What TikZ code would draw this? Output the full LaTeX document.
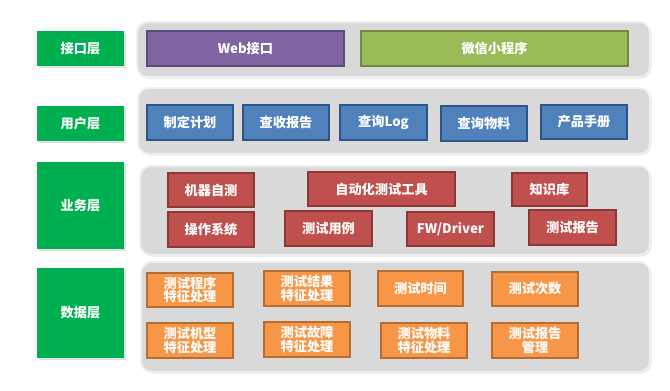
\documentclass[tikz,border=0pt]{standalone}
\usepackage{fontspec}
\setmainfont{Noto Sans CJK SC}
\usetikzlibrary{shadows}
\definecolor{lgreen}{HTML}{00B050}
\definecolor{panelfill}{HTML}{D9D9D9}
\definecolor{panelrim}{HTML}{EFEFEF}
\definecolor{purplef}{HTML}{8064A2}
\definecolor{purpled}{HTML}{5C4A7A}
\definecolor{olivef}{HTML}{9BBB59}
\definecolor{olived}{HTML}{71893F}
\definecolor{bluef}{HTML}{4F81BD}
\definecolor{blued}{HTML}{2F5585}
\definecolor{redf}{HTML}{C0504D}
\definecolor{redd}{HTML}{8C3836}
\definecolor{orangef}{HTML}{F79646}
\definecolor{oranged}{HTML}{B66D31}
\tikzset{
  every node/.style={font=\fontsize{13.2}{13.6}\selectfont\bfseries, text=white, align=center, inner sep=0pt},
  layerlabel/.style={fill=lgreen, drop shadow={opacity=0.25, shadow xshift=1.5pt, shadow yshift=-1.5pt}},
  panel/.style={fill=panelfill, draw=panelrim, line width=2pt, rounded corners=11pt,
    drop shadow={opacity=0.2, shadow xshift=1.5pt, shadow yshift=-1.5pt}},
  boxbase/.style={line width=1.3pt},
  purplebox/.style={boxbase, fill=purplef, draw=purpled},
  olivebox/.style={boxbase, fill=olivef, draw=olived},
  bluebox/.style={boxbase, fill=bluef, draw=blued},
  redbox/.style={boxbase, fill=redf, draw=redd},
  orangebox/.style={boxbase, fill=orangef, draw=oranged},
}
\begin{document}
\begin{tikzpicture}[x=1pt, y=-1pt]
\useasboundingbox (0,0) rectangle (670,391);
% layer labels
\node[layerlabel, minimum width=87pt, minimum height=35pt] (l1) at (80.5,48.5) {接口层};
\node[layerlabel, minimum width=87pt, minimum height=35pt] (l2) at (80.5,123.5) {用户层};
\node[layerlabel, minimum width=87pt, minimum height=87pt] (l3) at (80.5,205.5) {业务层};
\node[layerlabel, minimum width=87pt, minimum height=90pt] (l4) at (80.5,313) {数据层};
% panels
\node[panel, minimum width=513pt, minimum height=55pt] (p1) at (393.5,49.5) {};
\node[panel, minimum width=512pt, minimum height=66pt] (p2) at (394,121) {};
\node[panel, minimum width=510pt, minimum height=89pt] (p3) at (395,210.5) {};
\node[panel, minimum width=509pt, minimum height=110pt] (p4) at (395.5,317) {};
% interface layer
\node[purplebox, minimum width=197pt, minimum height=35pt] (web) at (245.5,48.5) {Web接口};
\node[olivebox, minimum width=267pt, minimum height=35pt] (wx) at (494.5,48.5) {微信小程序};
% user layer
\node[bluebox, minimum width=86pt, minimum height=35pt] (u1) at (190,122.5) {制定计划};
\node[bluebox, minimum width=86pt, minimum height=35pt] (u2) at (286,122.5) {查收报告};
\node[bluebox, minimum width=87pt, minimum height=35pt] (u3) at (383.5,122.5) {查询Log};
\node[bluebox, minimum width=86pt, minimum height=35pt] (u4) at (484,123.5) {查询物料};
\node[bluebox, minimum width=86pt, minimum height=34pt] (u5) at (584,122) {产品手册};
% business layer
\node[redbox, minimum width=86pt, minimum height=34pt] (b1) at (211,190) {机器自测};
\node[redbox, minimum width=147pt, minimum height=34pt] (b2) at (381.5,189) {自动化测试工具};
\node[redbox, minimum width=75pt, minimum height=33pt] (b3) at (549.5,189.5) {知识库};
\node[redbox, minimum width=86pt, minimum height=35pt] (b4) at (211,229.5) {操作系统};
\node[redbox, minimum width=87pt, minimum height=35pt] (b5) at (328.5,228.5) {测试用例};
\node[redbox, minimum width=87pt, minimum height=34pt] (b6) at (450.5,229) {FW/Driver};
\node[redbox, minimum width=87pt, minimum height=35pt] (b7) at (572.5,227.5) {测试报告};
% data layer
\node[orangebox, minimum width=86pt, minimum height=34pt] (d1) at (190,290) {测试程序\\特征处理};
\node[orangebox, minimum width=86pt, minimum height=35pt] (d2) at (307,288.5) {测试结果\\特征处理};
\node[orangebox, minimum width=85pt, minimum height=35pt] (d3) at (420.5,288.5) {测试时间};
\node[orangebox, minimum width=86pt, minimum height=34pt] (d4) at (535,289) {测试次数};
\node[orangebox, minimum width=86pt, minimum height=35pt] (d5) at (190,340.5) {测试机型\\特征处理};
\node[orangebox, minimum width=86pt, minimum height=35pt] (d6) at (307,339.5) {测试故障\\特征处理};
\node[orangebox, minimum width=86pt, minimum height=35pt] (d7) at (424,340.5) {测试物料\\特征处理};
\node[orangebox, minimum width=86pt, minimum height=35pt] (d8) at (535,340.5) {测试报告\\管理};
\end{tikzpicture}
\end{document}
